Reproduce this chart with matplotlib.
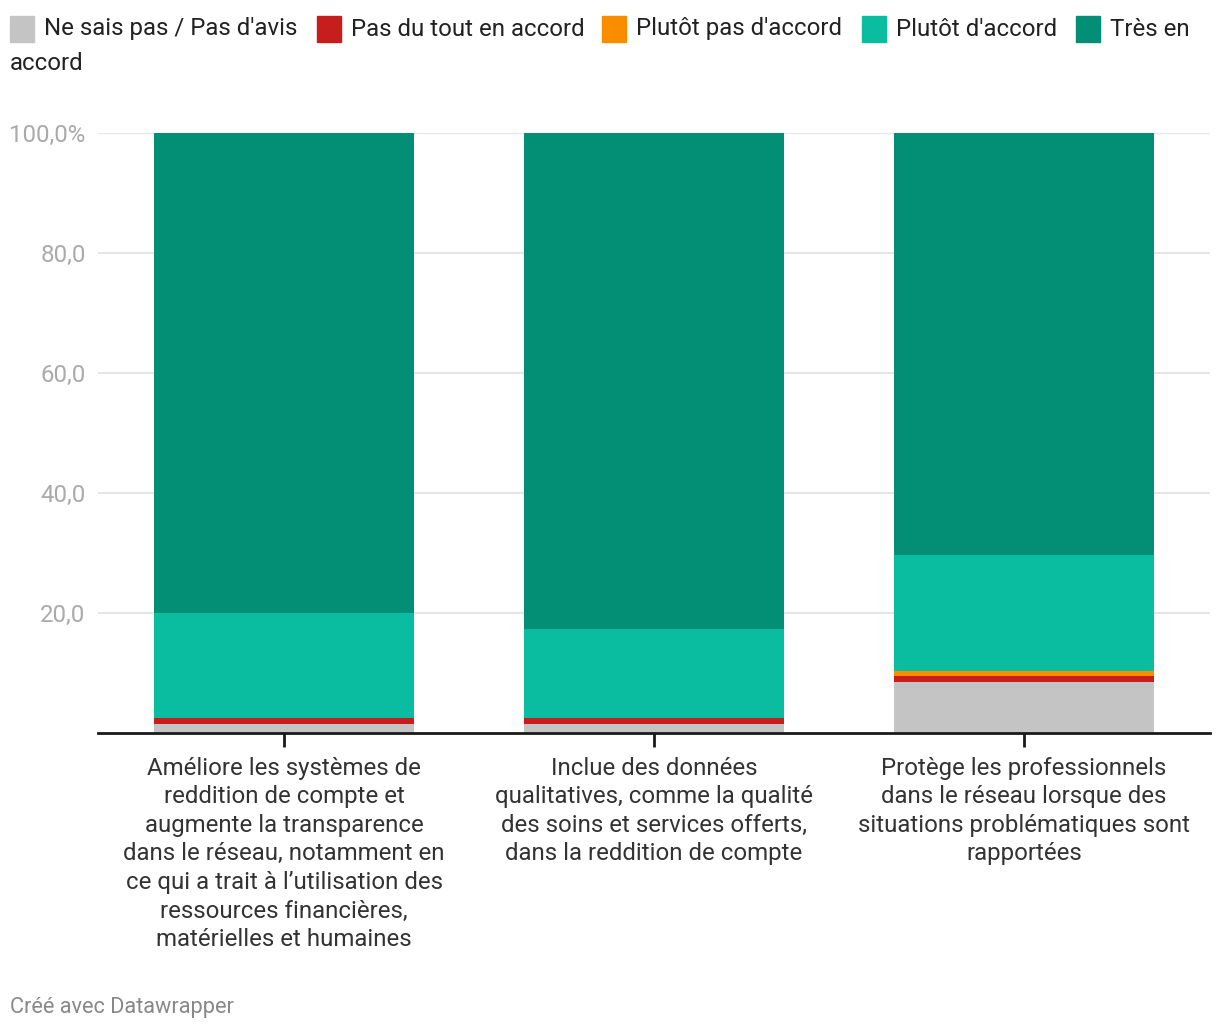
import matplotlib.pyplot as plt
import numpy as np
from matplotlib.patches import Rectangle

plt.rcParams['font.family'] = ['Roboto', 'DejaVu Sans']

# donnees (en %)
categories = [
    "Améliore les systèmes de\nreddition de compte et\naugmente la transparence\ndans le réseau, notamment en\nce qui a trait à l’utilisation des\nressources financières,\nmatérielles et humaines",
    "Inclue des données\nqualitatives, comme la qualité\ndes soins et services offerts,\ndans la reddition de compte",
    "Protège les professionnels\ndans le réseau lorsque des\nsituations problématiques sont\nrapportées",
]
series_names = ["Ne sais pas / Pas d'avis", "Pas du tout en accord",
                "Plutôt pas d'accord", "Plutôt d'accord", "Très en accord"]
ne_sais_pas = [1.5, 1.5, 8.5]
pas_du_tout = [1.0, 1.0, 1.0]
plutot_pas = [0.0, 0.0, 0.8]
plutot_accord = [17.5, 14.8, 19.3]
tres_accord = [80.0, 82.7, 70.4]
colors = ["#c4c4c4", "#c71e1d", "#fa8c00", "#0bbda0", "#038f75"]

yticks = [0, 20, 40, 60, 80, 100]
ytick_labels = ["", "20,0", "40,0", "60,0", "80,0", "100,0%"]

W, H = 1220, 1034
fig = plt.figure(figsize=(W / 100, H / 100), dpi=100)
ax = fig.add_axes([98 / W, 1 - 733 / H, (1210 - 98) / W, 600 / H])

x = np.arange(len(categories))
bottom = np.zeros(len(categories))
for vals, c in zip([ne_sais_pas, pas_du_tout, plutot_pas, plutot_accord, tres_accord], colors):
    ax.bar(x, vals, bottom=bottom, width=0.703, color=c, zorder=2)
    bottom += np.array(vals)

ax.set_xlim(-0.503, 2.503)
ax.set_ylim(0, 100)
for s in ax.spines.values():
    s.set_visible(False)
ax.axhline(0, color="#1a1a1a", lw=2, zorder=3, clip_on=False)
for t in yticks[1:]:
    ax.axhline(t, color="#e6e6e6", lw=1.5, zorder=1)

ax.set_yticks(yticks)
ax.set_yticklabels(ytick_labels, fontsize=17.3, color="#aaaaaa")
ax.tick_params(axis="y", length=0, pad=9)
ax.set_xticks(x)
ax.set_xticklabels(categories, fontsize=17.3, color="#333333", linespacing=1.31)
ax.tick_params(axis="x", length=10, width=2, color="#1a1a1a", pad=7)

# legende
leg_x = [10, 317, 602, 862, 1076]
for lx, name, c in zip(leg_x, series_names, colors):
    fig.patches.append(Rectangle((lx / W, 1 - 42 / H), 24 / W, 26 / H,
                                 transform=fig.transFigure, color=c))
    label = "Très en" if name == "Très en accord" else name
    fig.text((lx + 34) / W, 1 - 29 / H, label, fontsize=17.25, color="#222222", va="center")
fig.text(10 / W, 1 - 63 / H, "accord", fontsize=17.25, color="#222222", va="center")

fig.text(10 / W, 1 - 1008 / H, "Créé avec Datawrapper", fontsize=15.7, color="#888888", va="center")

fig.savefig("out.png", dpi=100)
